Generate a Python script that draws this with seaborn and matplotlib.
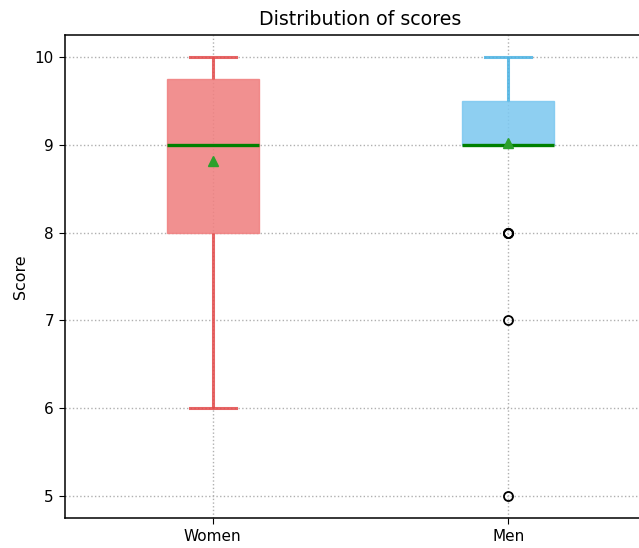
import matplotlib
matplotlib.use("Agg")
import matplotlib.pyplot as plt
import seaborn as sns
import pandas as pd

groups = ["Women", "Men"]
women_scores = [6] + [8] * 7 + [9] * 8 + [10] * 6
men_scores = [5, 7, 8, 8, 8] + [9] * 24 + [10] * 10
face_colors = {"Women": "lightcoral", "Men": "#7dc8f0"}
line_colors = {"Women": "#e34a4a", "Men": "#4ab2e3"}

df = pd.DataFrame({
    "group": ["Women"] * len(women_scores) + ["Men"] * len(men_scores),
    "score": women_scores + men_scores,
})

plt.rcParams["font.family"] = ["DejaVu Sans"]
fig = plt.figure(figsize=(6.39, 5.48), dpi=100)
ax = fig.add_axes([65 / 639, 30 / 548, 591 / 639, 483 / 548])
ax.set_axisbelow(True)

for g in groups:
    sub = df[df["group"] == g]
    sns.boxplot(
        data=sub, x="group", y="score", order=groups, ax=ax,
        width=0.31, saturation=1, color=face_colors[g],
        linecolor=line_colors[g], linewidth=2.2,
        showmeans=True,
        boxprops=dict(facecolor=face_colors[g], edgecolor=face_colors[g],
                      alpha=0.87, linewidth=1),
        whiskerprops=dict(color=line_colors[g], alpha=0.85, linewidth=2.2),
        capprops=dict(color=line_colors[g], alpha=0.85, linewidth=2.2),
        medianprops=dict(color="green", linewidth=2.4, alpha=1),
        meanprops=dict(marker="^", markerfacecolor="#2ca02c",
                       markeredgecolor="#2ca02c", markersize=7.5),
        flierprops=dict(marker="o", markerfacecolor="none",
                        markeredgecolor="black", markersize=6.5,
                        markeredgewidth=1.3),
    )

ax.grid(True, axis="both", linestyle=":", color="#b0b0b0", linewidth=1)
ax.set_xlim(-0.5, 1.5)
ax.set_ylim(4.75, 10.25)
ax.set_yticks([5, 6, 7, 8, 9, 10])
ax.set_title("Distribution of scores", fontsize=13.7, pad=7)
ax.set_xlabel("")
ax.set_ylabel("Score", fontsize=11.4, labelpad=5)
ax.tick_params(labelsize=11, direction="out", length=4, pad=4, color="black")
for s in ax.spines.values():
    s.set_color("black")
    s.set_linewidth(1.1)

fig.savefig("out.png", dpi=100)
